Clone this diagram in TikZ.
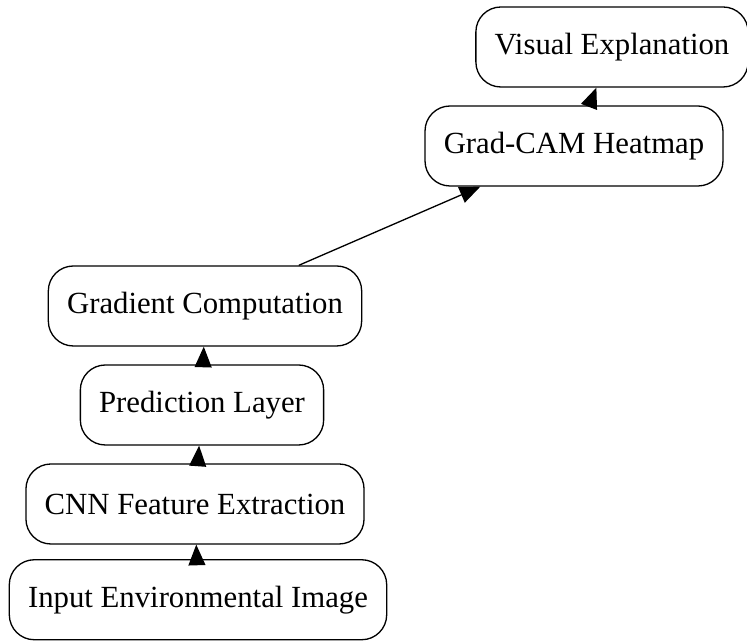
\documentclass[tikz,border=0pt]{standalone}
\usepackage{fontspec}
\setmainfont{Liberation Serif}
\usetikzlibrary{arrows.meta}

\begin{document}
\begin{tikzpicture}[
  box/.style={draw, line width=0.6pt, rounded corners=0.4cm, minimum height=1.28cm,
    inner xsep=0.3cm, font=\fontsize{14}{16}\selectfont},
  flow/.style={-{Triangle[length=0.33cm,width=0.27cm]}, line width=0.6pt}]
\useasboundingbox (0,0) rectangle (11.952,10.256);

\node[box] (input) at (3.168,0.66) {Input Environmental Image};
\node[box] (cnn) at (3.12,2.192) {CNN Feature Extraction};
\node[box] (pred) at (3.232,3.776) {Prediction Layer};
\node[box] (grad) at (3.28,5.36) {Gradient Computation};
\node[box] (cam) at (9.184,7.92) {Grad-CAM Heatmap};
\node[box] (vis) at (9.792,9.504) {Visual Explanation};

\draw[flow] (input) -- (cnn);
\draw[flow] (cnn) -- (pred);
\draw[flow] (pred) -- (grad);
\draw[flow] (grad) -- (cam);
\draw[flow] (cam) -- (vis);
\end{tikzpicture}
\end{document}
